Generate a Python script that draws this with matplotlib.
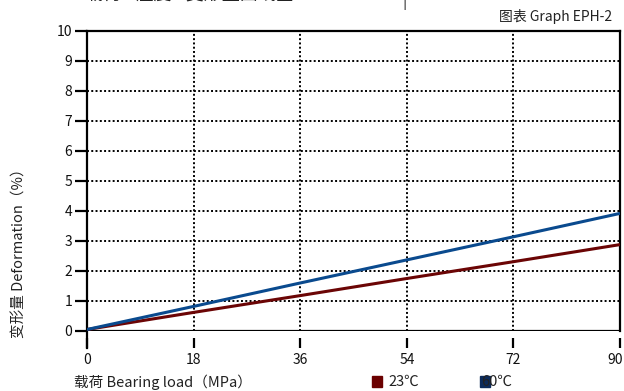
import matplotlib
matplotlib.use("Agg")
import matplotlib.pyplot as plt
from matplotlib.patches import Rectangle
import matplotlib.transforms as mtransforms

plt.rcParams['font.family'] = ['Noto Sans CJK SC', 'DejaVu Sans']

load = [0, 18, 36, 54, 72, 90]
def_23 = [0.05, 0.62, 1.18, 1.75, 2.31, 2.88]
def_60 = [0.05, 0.82, 1.60, 2.37, 3.14, 3.92]
xticks = [0, 18, 36, 54, 72, 90]
yticks = list(range(0, 11))
series_names = ['23℃', '60℃']
colors = ['#6b0505', '#0a4a8e']
legend_colors = ['#6b0000', '#0c2b5a']

W, H = 624, 391
fig = plt.figure(figsize=(W / 100, H / 100), dpi=100)
ax = fig.add_axes([87 / W, (H - 331) / H, (620 - 87) / W, 300 / H])

ax.set_xlim(0, 90)
ax.set_ylim(0, 10)

ax.plot(load, def_23, color=colors[0], lw=2.2, solid_capstyle='butt', zorder=4)
ax.plot(load, def_60, color=colors[1], lw=2.2, solid_capstyle='butt', zorder=5)

for y in yticks[1:]:
    ax.axhline(y, color='black', lw=1.4, dashes=(1, 1.2), zorder=1)
for x in xticks[1:-1]:
    ax.axvline(x, color='black', lw=1.4, dashes=(1, 1.2), zorder=1)
ax.axhline(0, color='black', lw=1.6, zorder=3)

ax.spines['bottom'].set_position(('outward', 12.2))
ax.spines['bottom'].set_visible(False)
for s in ['left', 'right', 'top']:
    ax.spines[s].set_linewidth(1.6)
ax.spines['left'].set_bounds(-0.57, 10)

ax.set_xticks(xticks)
ax.set_yticks(yticks)
ax.tick_params(axis='x', direction='in', length=7.2, width=1.6, pad=4, labelsize=10, labelcolor='#111111')
ax.tick_params(axis='y', direction='out', length=8.6, width=1.6, pad=2, labelsize=10, labelcolor='#111111')

# keep the last x tick label inside the picture
last = ax.get_xticklabels()[-1]
last.set_transform(last.get_transform() + mtransforms.ScaledTranslation(-5 / 100, 0, fig.dpi_scale_trans))

fig.text(20 / W, 1 - 250 / H, '变形量 Deformation（%）', rotation=90, ha='center', va='center', fontsize=10.5, color='#222222')
fig.text(74 / W, 1 - 382 / H, '载荷 Bearing load（MPa）', ha='left', va='center', fontsize=10.5, color='#222222')
fig.text(612 / W, 1 - 17 / H, '图表 Graph EPH-2', ha='right', va='center', fontsize=10, color='#222222')
fig.text(85 / W, 1 + 5 / H, '载荷 - 温度 - 变形量曲线图', ha='left', va='center', fontsize=13, color='#222222')
fig.text(404 / W, 1 - 1 / H, '|', ha='center', va='center', fontsize=11, color='#222222')

# legend
fig.patches.append(Rectangle((372 / W, 1 - 387 / H), 10 / W, 11 / H, transform=fig.transFigure, color=legend_colors[0], zorder=1))
fig.text(388 / W, 1 - 382 / H, series_names[0], ha='left', va='center', fontsize=10.5, color='#222222', zorder=5)
fig.patches.append(Rectangle((480 / W, 1 - 387 / H), 10 / W, 11 / H, transform=fig.transFigure, color=legend_colors[1], zorder=1))
fig.text(481 / W, 1 - 382 / H, series_names[1], ha='left', va='center', fontsize=10.5, color='#222222', zorder=5)

fig.savefig('out.png', dpi=100)
